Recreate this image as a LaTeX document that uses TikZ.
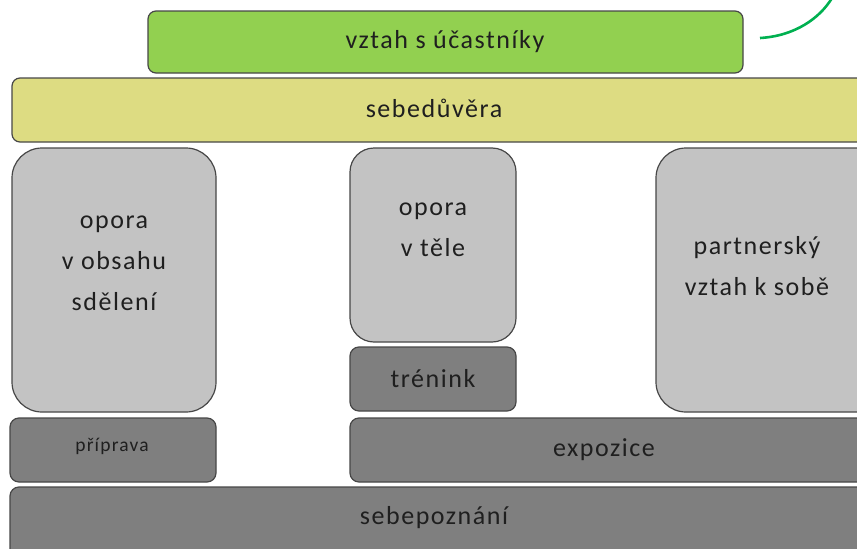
\documentclass[tikz,border=0pt]{standalone}
\usepackage{fontspec}
\setmainfont{Carlito}[LetterSpace=6]
\begin{document}
\begin{tikzpicture}[x=1pt,y=-1pt,
  blk/.style={draw=black!72, line width=1.2pt, inner sep=0pt},
  lbl/.style={font=\fontsize{26}{41}\selectfont, text=black!88, align=center, inner sep=0pt},
  small/.style={font=\fontsize{19.5}{20}\selectfont, text=black!88, inner sep=0pt}]
\useasboundingbox (0,0) rectangle (857,549);
\definecolor{gr}{HTML}{92D050}
\definecolor{ye}{HTML}{DDDC82}
\definecolor{lg}{HTML}{C3C3C3}
\definecolor{dg}{HTML}{7F7F7F}
\definecolor{arc}{HTML}{00B050}
% top
\draw[blk, fill=gr, rounded corners=8pt] (148,11) rectangle (743,73);
\node[lbl] (top) at (445,42) {vztah s účastníky};
\draw[blk, fill=ye, rounded corners=8pt] (12,78) rectangle (880,142);
\node[lbl] (sb) at (434,108) {sebedůvěra};
% pillars
\draw[blk, fill=lg, rounded corners=30pt] (12,148) rectangle (216,412);
\node[lbl] (p1) at (114,263) {opora\\v obsahu\\sdělení};
\draw[blk, fill=lg, rounded corners=24pt] (350,148) rectangle (516,342);
\node[lbl] (p2) at (433,230) {opora\\v těle};
\draw[blk, fill=lg, rounded corners=30pt] (656,148) rectangle (890,412);
\node[lbl] (p3) at (757,266) {partnerský\\vztah k sobě};
% lower
\draw[blk, fill=dg, rounded corners=9pt] (350,347) rectangle (516,411);
\node[lbl] (tr) at (433,379) {trénink};
\draw[blk, fill=dg, rounded corners=9pt] (10,418) rectangle (216,482);
\node[small] (pr) at (112,446) {příprava};
\draw[blk, fill=dg, rounded corners=9pt] (350,418) rectangle (880,482);
\node[lbl] (ex) at (604,450) {expozice};
\draw[blk, fill=dg, rounded corners=9pt] (10,487) rectangle (880,560);
\node[lbl] (sp) at (434,518) {sebepoznání};
% green arc
\coordinate (a1) at (760,38);
\coordinate (a2) at (832,-2);
\draw[arc, line width=2.6pt] (a1) .. controls (795,36) and (820,18) .. (a2);
\end{tikzpicture}
\end{document}
